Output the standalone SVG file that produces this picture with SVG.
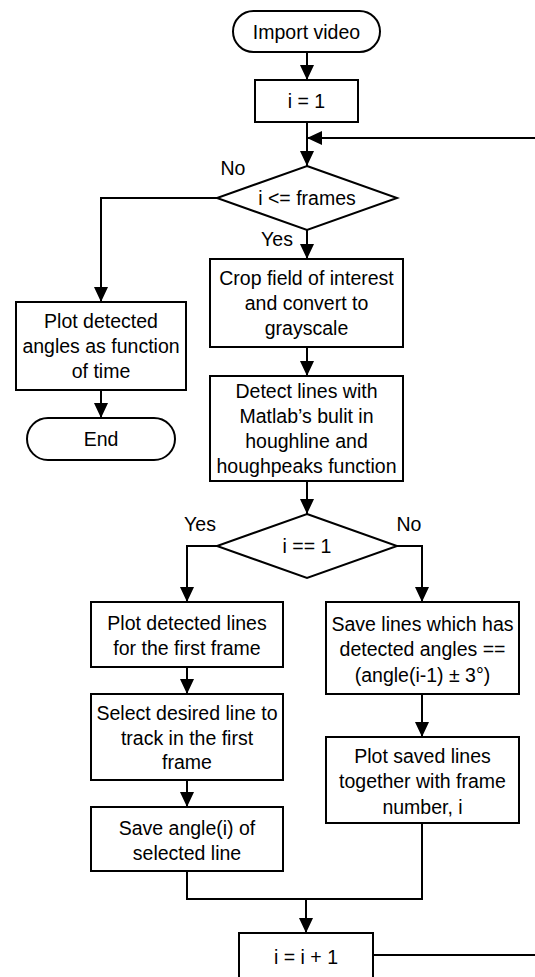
<svg xmlns="http://www.w3.org/2000/svg" width="535" height="977" viewBox="0 0 535 977">
<style>
.box{fill:#fff;stroke:#000;stroke-width:2}
.ln{fill:none;stroke:#000;stroke-width:2}
text{font-family:"Liberation Sans",Arial,sans-serif;font-size:19.5px;fill:#000;text-anchor:middle}
</style>
<defs>
<marker id="ah" markerWidth="15" markerHeight="14" refX="15" refY="7" orient="auto" markerUnits="userSpaceOnUse">
<path d="M0,0 L15,7 L0,14 Z" fill="#000"/>
</marker>
</defs>
<rect width="535" height="977" fill="#fff"/>
<g id="connectors">
<path class="ln" d="M307,52 V80" marker-end="url(#ah)"/>
<path class="ln" d="M307,122 V166" marker-end="url(#ah)"/>
<path class="ln" d="M373,955 H545 V138 H307" marker-end="url(#ah)"/>
<path class="ln" d="M217,198 H101 V302" marker-end="url(#ah)"/>
<path class="ln" d="M307,230 V259" marker-end="url(#ah)"/>
<path class="ln" d="M101,390 V418" marker-end="url(#ah)"/>
<path class="ln" d="M307,347 V376" marker-end="url(#ah)"/>
<path class="ln" d="M307,481 V514" marker-end="url(#ah)"/>
<path class="ln" d="M217,546 H187 V602" marker-end="url(#ah)"/>
<path class="ln" d="M397,546 H422 V602" marker-end="url(#ah)"/>
<path class="ln" d="M187,667 V694" marker-end="url(#ah)"/>
<path class="ln" d="M187,780 V807" marker-end="url(#ah)"/>
<path class="ln" d="M422,694 V737" marker-end="url(#ah)"/>
<path class="ln" d="M187,871 V899 H422 V823"/>
<path class="ln" d="M306,899 V933" marker-end="url(#ah)"/>
<text x="233" y="175">No</text>
<text x="277" y="246">Yes</text>
<text x="200" y="531">Yes</text>
<text x="409" y="531">No</text>
</g>
<g id="start">
<rect class="box" x="233" y="11" width="147" height="41" rx="20.5"/>
<text x="306.5" y="38.5">Import video</text>
</g>
<g id="init">
<rect class="box" x="255" y="80" width="103" height="42"/>
<text x="306.5" y="107.5">i = 1</text>
</g>
<g id="cond-frames">
<polygon class="box" points="307,166 397,198 307,230 217,198"/>
<text x="307" y="204.5">i &lt;= frames</text>
</g>
<g id="plot-angles">
<rect class="box" x="16" y="302" width="170" height="88"/>
<text x="101" y="328">Plot detected</text>
<text x="101" y="353">angles as function</text>
<text x="101" y="378">of time</text>
</g>
<g id="end">
<rect class="box" x="27" y="418" width="148" height="42" rx="21"/>
<text x="101" y="445.5">End</text>
</g>
<g id="crop">
<rect class="box" x="210" y="259" width="193" height="88"/>
<text x="306.5" y="284.5">Crop field of interest</text>
<text x="306.5" y="309.5">and convert to</text>
<text x="306.5" y="334.5">grayscale</text>
</g>
<g id="detect">
<rect class="box" x="210" y="376" width="193" height="105"/>
<text x="306.5" y="398">Detect lines with</text>
<text x="306.5" y="423">Matlab’s bulit in</text>
<text x="306.5" y="448">houghline and</text>
<text x="306.5" y="473">houghpeaks function</text>
</g>
<g id="cond-first">
<polygon class="box" points="307,514 397,546 307,578 217,546"/>
<text x="307" y="553">i == 1</text>
</g>
<g id="plot-first">
<rect class="box" x="91" y="602" width="192" height="65"/>
<text x="187" y="629.5">Plot detected lines</text>
<text x="187" y="654.5">for the first frame</text>
</g>
<g id="select">
<rect class="box" x="91" y="694" width="192" height="86"/>
<text x="187" y="719.5">Select desired line to</text>
<text x="187" y="744.5">track in the first</text>
<text x="187" y="768.5">frame</text>
</g>
<g id="save-angle">
<rect class="box" x="91" y="807" width="192" height="64"/>
<text x="187" y="834.5">Save angle(i) of</text>
<text x="187" y="859.5">selected line</text>
</g>
<g id="save-lines">
<rect class="box" x="326" y="602" width="193" height="92"/>
<text x="422.5" y="630.5">Save lines which has</text>
<text x="422.5" y="656">detected angles ==</text>
<text x="422.5" y="681.5">(angle(i-1) ± 3°)</text>
</g>
<g id="plot-saved">
<rect class="box" x="326" y="737" width="193" height="86"/>
<text x="422.5" y="762.5">Plot saved lines</text>
<text x="422.5" y="788">together with frame</text>
<text x="422.5" y="813.5">number, i</text>
</g>
<g id="increment">
<rect class="box" x="239" y="933" width="134" height="46"/>
<text x="306" y="964">i = i + 1</text>
</g>
</svg>
